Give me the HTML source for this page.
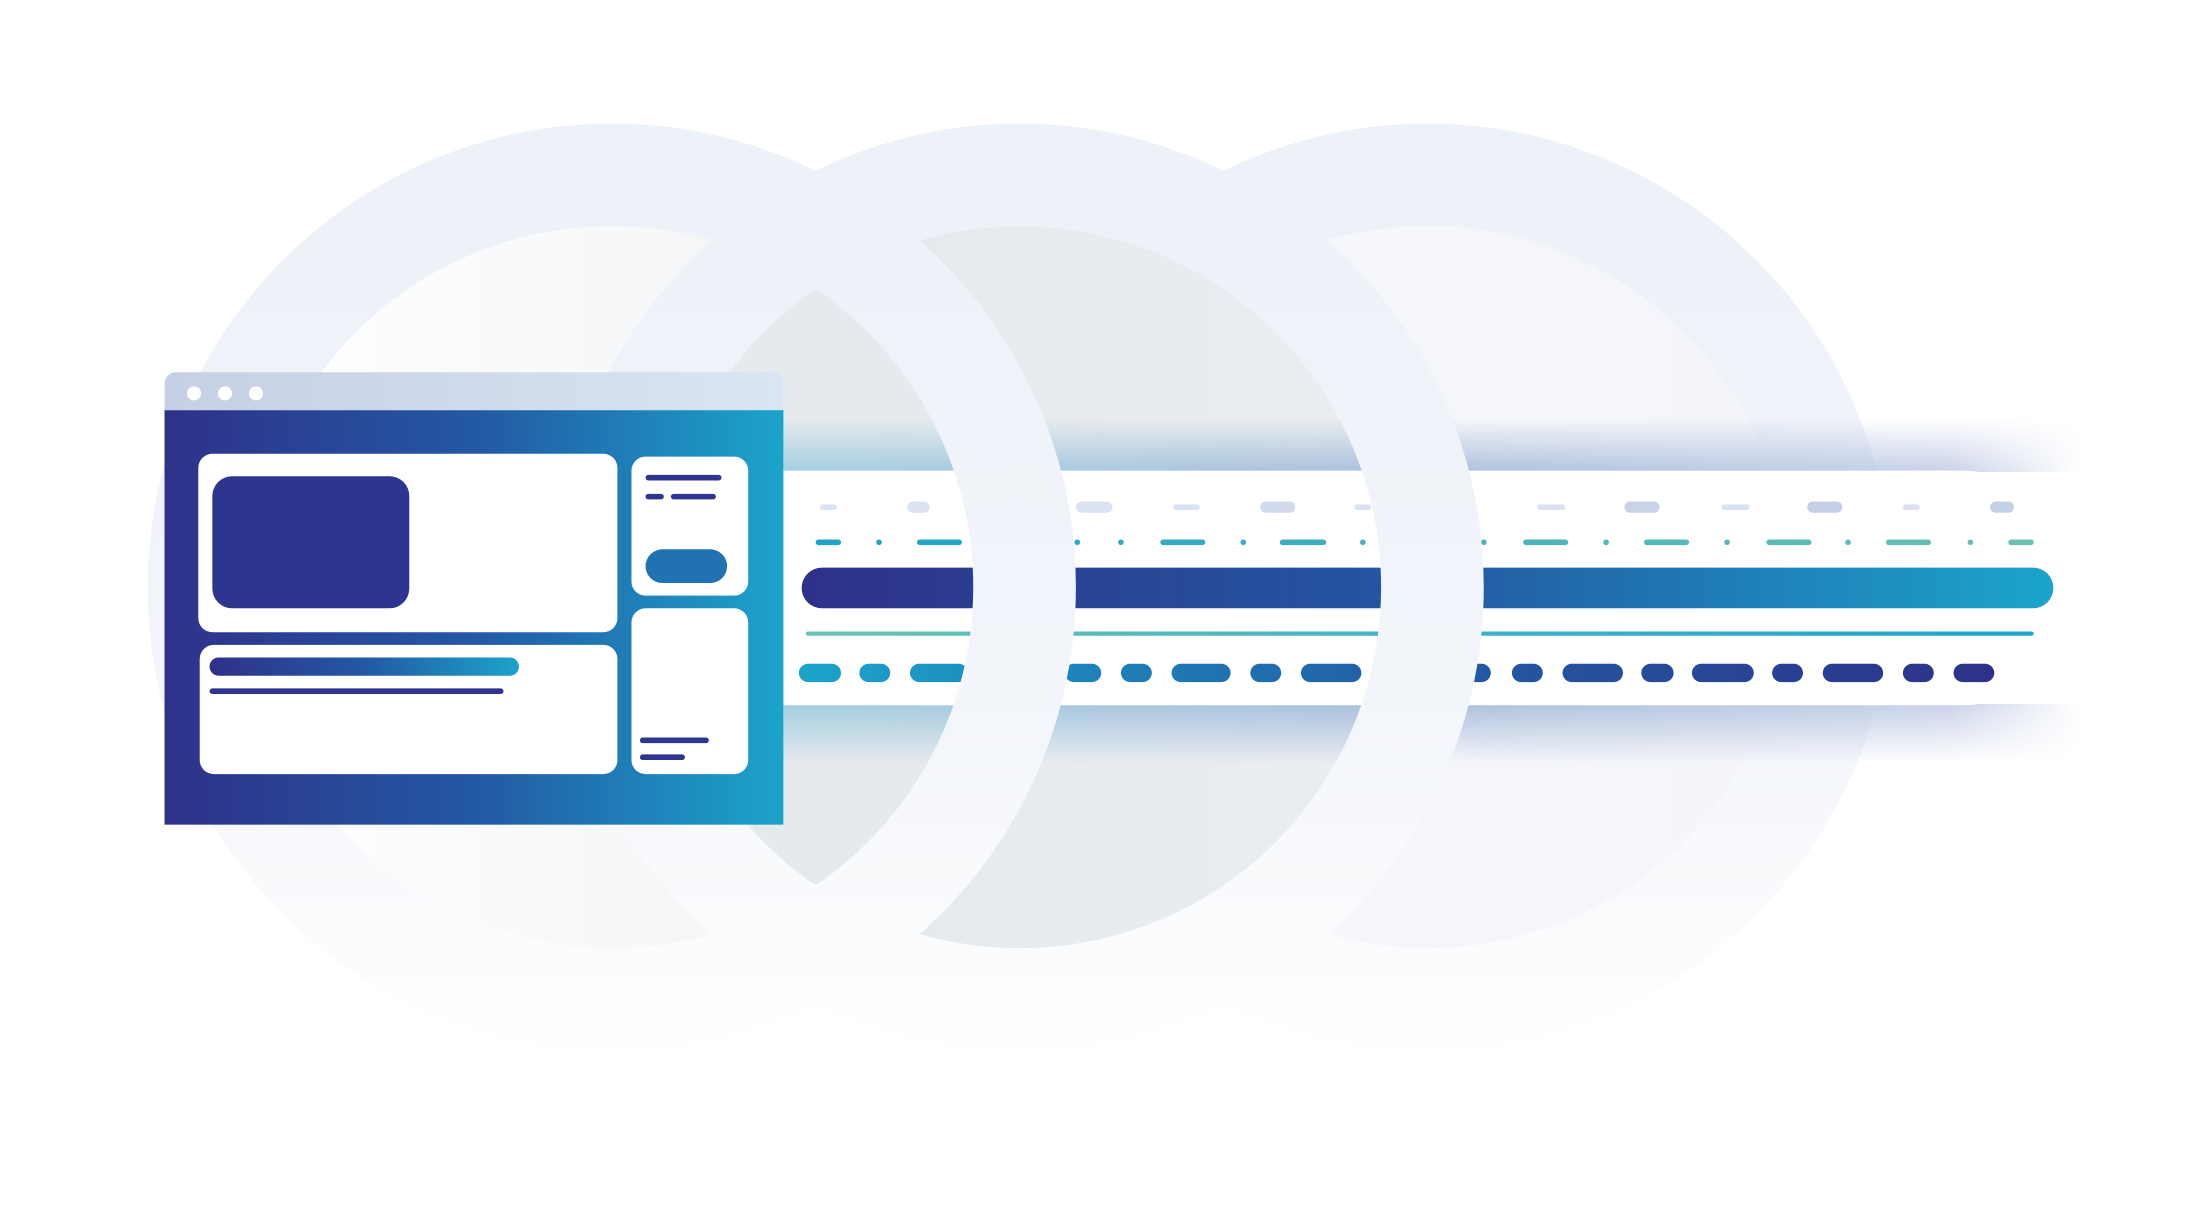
<!DOCTYPE html>
<html><head><meta charset="utf-8"><style>html,body{margin:0;padding:0;background:#fff}svg{display:block}</style></head>
<body>
<svg width="2194" height="1211" viewBox="0 0 1560 862" preserveAspectRatio="none" xmlns="http://www.w3.org/2000/svg">
<defs>
<linearGradient id="ring" gradientUnits="userSpaceOnUse" x1="0" y1="90" x2="0" y2="760"><stop offset="0" stop-color="#edf1f8"/><stop offset="0.6" stop-color="#f2f5fa"/><stop offset="1" stop-color="#ffffff"/></linearGradient>
<linearGradient id="in1" x1="0" y1="0" x2="1" y2="0"><stop offset="0" stop-color="#ffffff"/><stop offset="1" stop-color="#eef1f4"/></linearGradient>
<linearGradient id="in2" x1="0" y1="0" x2="1" y2="0"><stop offset="0" stop-color="#e4e9ec"/><stop offset="1" stop-color="#eaedf1"/></linearGradient>
<linearGradient id="in3" x1="0" y1="0" x2="1" y2="0"><stop offset="0" stop-color="#f7f8fa"/><stop offset="1" stop-color="#f3f5f9"/></linearGradient>
<linearGradient id="main" x1="0" y1="0" x2="1" y2="0"><stop offset="0" stop-color="#2e3189"/><stop offset="0.5" stop-color="#2358a4"/><stop offset="1" stop-color="#1ba4ca"/></linearGradient>
<linearGradient id="rev" gradientUnits="userSpaceOnUse" x1="568" y1="0" x2="1418" y2="0"><stop offset="0" stop-color="#1ba4ca"/><stop offset="0.5" stop-color="#215ea6"/><stop offset="1" stop-color="#2e3189"/></linearGradient>
<linearGradient id="teal" gradientUnits="userSpaceOnUse" x1="573" y1="0" x2="1446" y2="0"><stop offset="0" stop-color="#6cc3b3"/><stop offset="0.5" stop-color="#40b4c6"/><stop offset="1" stop-color="#1da5cd"/></linearGradient>
<linearGradient id="teal2" gradientUnits="userSpaceOnUse" x1="580" y1="0" x2="1446" y2="0"><stop offset="0" stop-color="#1fa3c8"/><stop offset="1" stop-color="#6cc0b0"/></linearGradient>
<linearGradient id="title" x1="0" y1="0" x2="1" y2="0"><stop offset="0" stop-color="#c5d0e5"/><stop offset="1" stop-color="#dae4f2"/></linearGradient>
<linearGradient id="gcol" gradientUnits="userSpaceOnUse" x1="557" y1="0" x2="1480" y2="0"><stop offset="0" stop-color="#9ccbe0"/><stop offset="0.5" stop-color="#a4b9da"/><stop offset="0.9" stop-color="#c2cde6"/><stop offset="1" stop-color="#ffffff"/></linearGradient>
<linearGradient id="vT" x1="0" y1="0" x2="0" y2="1"><stop offset="0" stop-color="#fff" stop-opacity="0"/><stop offset="1" stop-color="#fff" stop-opacity="0.9"/></linearGradient>
<linearGradient id="vB" x1="0" y1="0" x2="0" y2="1"><stop offset="0" stop-color="#fff" stop-opacity="0.9"/><stop offset="1" stop-color="#fff" stop-opacity="0"/></linearGradient>
<mask id="mT" maskUnits="userSpaceOnUse"><rect x="557" y="298" width="930" height="38" fill="url(#vT)"/></mask>
<mask id="mB" maskUnits="userSpaceOnUse"><rect x="557" y="501" width="930" height="42" fill="url(#vB)"/></mask>
<clipPath id="c1"><rect x="435" y="285" width="400" height="270"/></clipPath>
<clipPath id="c2"><rect x="725" y="285" width="400" height="270"/></clipPath>
</defs>
<rect width="1560" height="862" fill="#fff"/>
<circle cx="1015" cy="418" r="293.5" fill="none" stroke="url(#ring)" stroke-width="73"/>
<circle cx="1015" cy="418" r="257" fill="url(#in3)"/>
<circle cx="435" cy="418" r="257" fill="url(#in1)"/>
<circle cx="725" cy="418" r="257" fill="url(#in2)"/>
<circle cx="725" cy="418" r="293.5" fill="none" stroke="url(#ring)" stroke-width="73"/>
<circle cx="435" cy="418" r="293.5" fill="none" stroke="url(#ring)" stroke-width="73"/>
<!-- glows -->
<rect x="557" y="298" width="930" height="38" fill="url(#gcol)" mask="url(#mT)"/>
<rect x="557" y="501" width="930" height="42" fill="url(#gcol)" mask="url(#mB)"/>
<!-- bar -->
<path d="M557 335 H1395 A82 83.5 0 0 1 1395 502 H557 Z" fill="#fff"/>
<g fill="#dbe3f2">
<rect x="583" y="359" width="12" height="4" rx="2"/><rect x="645" y="357" width="16" height="8" rx="4"/>
<rect x="765" y="357" width="26" height="8" rx="4"/><rect x="834" y="359" width="19" height="4" rx="2"/>
<rect x="896" y="357" width="25" height="8" rx="4" fill="#d0daec"/><rect x="963" y="359" width="12" height="4" rx="2"/>
<rect x="1093" y="359" width="20" height="4" rx="2"/><rect x="1155" y="357" width="25" height="8" rx="4" fill="#c8d3e8"/>
<rect x="1224" y="359" width="20" height="4" rx="2"/><rect x="1285" y="357" width="25" height="8" rx="4" fill="#c5d0e6"/>
<rect x="1353" y="359" width="12" height="4" rx="2"/><rect x="1415" y="357" width="17" height="8" rx="4" fill="#c5d0e6"/>
</g>
<g fill="url(#teal2)">
<rect x="580" y="384" width="18" height="4" rx="2"/><circle cx="625" cy="386" r="2"/><rect x="652" y="384" width="32" height="4" rx="2"/>
<circle cx="766" cy="386" r="2"/><circle cx="797" cy="386" r="2"/><rect x="825" y="384" width="32" height="4" rx="2"/>
<circle cx="884" cy="386" r="2"/><rect x="910" y="384" width="33" height="4" rx="2"/><circle cx="969" cy="386" r="2"/>
<circle cx="1055" cy="386" r="2"/><rect x="1083" y="384" width="32" height="4" rx="2"/><circle cx="1142" cy="386" r="2"/>
<rect x="1169" y="384" width="32" height="4" rx="2"/><circle cx="1228" cy="386" r="2"/><rect x="1256" y="384" width="32" height="4" rx="2"/>
<circle cx="1314" cy="386" r="2"/><rect x="1341" y="384" width="32" height="4" rx="2"/><circle cx="1401" cy="386" r="2"/>
<rect x="1428" y="384" width="18" height="4" rx="2"/>
</g>
<rect x="570" y="404" width="890" height="29" rx="14.5" fill="url(#main)"/>
<rect x="573" y="449.5" width="873" height="3" rx="1.5" fill="url(#teal)"/>
<g fill="url(#rev)">
<rect x="568" y="472.5" width="30" height="13" rx="6.5"/><rect x="611" y="472.5" width="22" height="13" rx="6.5"/>
<rect x="647" y="472.5" width="41" height="13" rx="6.5"/><rect x="757" y="472.5" width="26" height="13" rx="6.5"/>
<rect x="797" y="472.5" width="22" height="13" rx="6.5"/><rect x="833" y="472.5" width="42" height="13" rx="6.5"/>
<rect x="889" y="472.5" width="22" height="13" rx="6.5"/><rect x="925" y="472.5" width="43" height="13" rx="6.5"/>
<rect x="1043" y="472.5" width="17" height="13" rx="6.5"/><rect x="1075" y="472.5" width="22" height="13" rx="6.5"/>
<rect x="1111" y="472.5" width="43" height="13" rx="6.5"/><rect x="1167" y="472.5" width="23" height="13" rx="6.5"/>
<rect x="1203" y="472.5" width="44" height="13" rx="6.5"/><rect x="1260" y="472.5" width="22" height="13" rx="6.5"/>
<rect x="1296" y="472.5" width="43" height="13" rx="6.5"/><rect x="1353" y="472.5" width="22" height="13" rx="6.5"/>
<rect x="1389" y="472.5" width="29" height="13" rx="6.5"/>
</g>
<!-- front bands -->
<circle cx="725" cy="418" r="293.5" fill="none" stroke="url(#ring)" stroke-width="73" clip-path="url(#c2)"/>
<circle cx="435" cy="418" r="293.5" fill="none" stroke="url(#ring)" stroke-width="73" clip-path="url(#c1)"/>
<!-- browser -->
<path d="M117 292 V273 A8 8 0 0 1 125 265 H549 A8 8 0 0 1 557 273 V292 Z" fill="url(#title)"/>
<circle cx="138" cy="280" r="5" fill="#fff"/><circle cx="160" cy="280" r="5" fill="#fff"/><circle cx="182" cy="280" r="5" fill="#fff"/>
<rect x="117" y="292" width="440" height="295" fill="url(#main)"/>
<rect x="141" y="323" width="298" height="127" rx="10" fill="#fff"/>
<rect x="151" y="339" width="140" height="94" rx="14" fill="#2d3590"/>
<rect x="449" y="325" width="83" height="99" rx="10" fill="#fff"/>
<rect x="459" y="338" width="54" height="4" rx="2" fill="#2d3590"/>
<rect x="459" y="351.5" width="13" height="4" rx="2" fill="#2d3590"/><rect x="477" y="351.5" width="32" height="4" rx="2" fill="#2d3590"/>
<rect x="459" y="391" width="58" height="24" rx="12" fill="#2073b0"/>
<rect x="449" y="433" width="83" height="118" rx="10" fill="#fff"/>
<rect x="455" y="525" width="49" height="4" rx="2" fill="#2d3590"/>
<rect x="455" y="537" width="32" height="4" rx="2" fill="#2d3590"/>
<rect x="142" y="459" width="297" height="92" rx="10" fill="#fff"/>
<rect x="149" y="468" width="220" height="13" rx="6.5" fill="url(#main)"/>
<rect x="149" y="490" width="209" height="4" rx="2" fill="#2d3590"/>
</svg>
</body></html>
